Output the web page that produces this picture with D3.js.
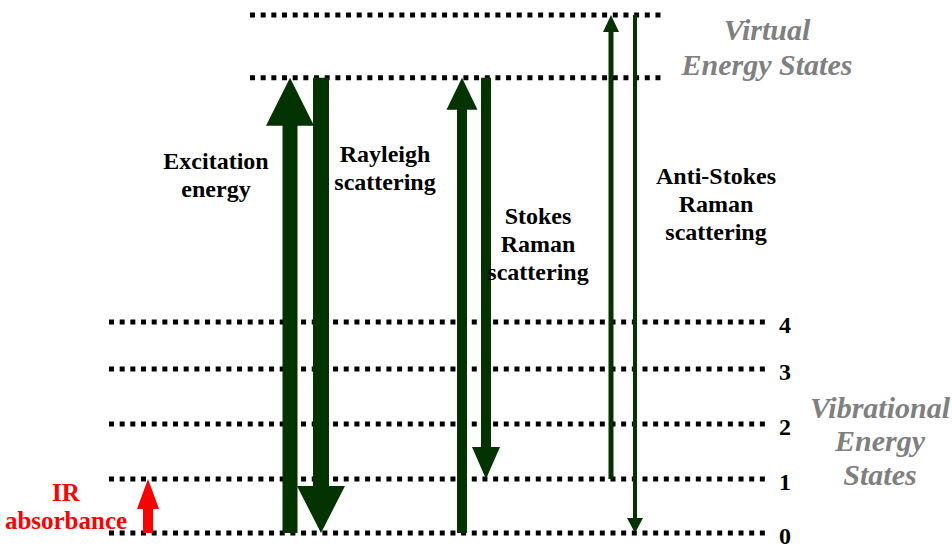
<!DOCTYPE html>
<html>
<head>
<meta charset="utf-8">
<script src="https://cdn.jsdelivr.net/npm/d3@7"></script>
<style>
  body { margin: 0; background: #fff; }
</style>
</head>
<body>
<div id="chart"></div>
<script>
// energy level diagram (Raman / Rayleigh / IR)

// vibrational levels, energy in units of one vibrational quantum
const vibLabels = ["0", "1", "2", "3", "4"];
const vibEnergy = [0, 0.99, 2.0, 3.01, 3.87];
// virtual levels
const virtualEnergy = [8.35, 9.5];

// transitions: name, from energy, to energy
const transNames = ["IR", "Excitation", "Rayleigh", "StokesUp", "StokesDown", "AntiUp", "AntiDown"];
const transFrom = [0, 0, 8.35, 0, 8.35, 0.99, 9.5];
const transTo = [0.99, 8.35, 0, 8.35, 0.99, 9.5, 0];

const W = 952, H = 549;
const green = "#033300";
const serif = "'Liberation Serif', 'Times New Roman', Times, 'DejaVu Serif', serif";

// layout for each transition arrow (x in px, shaft width, head width, head length)
const arrowStyle = {
  IR:         { x: 148, sw: 10, hw: 22, hl: 30, color: "#ff0000" },
  Excitation: { x: 290, sw: 15, hw: 48, hl: 48, color: green },
  Rayleigh:   { x: 321, sw: 16, hw: 48, hl: 47, color: green },
  StokesUp:   { x: 462, sw: 10, hw: 31, hl: 32, color: green },
  StokesDown: { x: 486, sw: 10, hw: 28, hl: 32, color: green },
  AntiUp:     { x: 611, sw: 5,  hw: 16, hl: 17, color: green },
  AntiDown:   { x: 635, sw: 4,  hw: 16, hl: 15, color: green }
};

const svg = d3.select("#chart").append("svg")
  .attr("width", W).attr("height", H)
  .style("font-family", serif)
  .style("font-weight", "bold");

const y = d3.scaleLinear().domain([0, 9.5]).range([533, 15]);

// dotted level lines
function dotted(x0, x1, e) {
  svg.append("line")
    .attr("x1", x0).attr("x2", x1)
    .attr("y1", y(e)).attr("y2", y(e))
    .attr("stroke", "#000")
    .attr("stroke-width", 5)
    .attr("stroke-dasharray", "5 5.67");
}
vibEnergy.forEach(e => dotted(109, 765, e));
virtualEnergy.forEach(e => dotted(250, 662, e));

// level numbers
svg.selectAll(".lvl").data(vibEnergy).join("text")
  .attr("class", "lvl")
  .attr("x", 785)
  .attr("y", d => y(d) + 3)
  .attr("dy", "0.35em")
  .attr("text-anchor", "middle")
  .style("font-family", serif)
  .attr("font-size", 24)
  .text((d, i) => vibLabels[i]);

// arrows
function arrowPath(x, y0, y1, sw, hw, hl) {
  const dir = y1 < y0 ? -1 : 1; // -1 up
  const yb = y1 - dir * hl;
  return `M${x - sw / 2},${y0} L${x - sw / 2},${yb} L${x - hw / 2},${yb} L${x},${y1} ` +
    `L${x + hw / 2},${yb} L${x + sw / 2},${yb} L${x + sw / 2},${y0} Z`;
}

svg.selectAll(".arrow").data(transNames).join("path")
  .attr("class", "arrow")
  .attr("d", (d, i) => {
    const s = arrowStyle[d];
    return arrowPath(s.x, y(transFrom[i]), y(transTo[i]), s.sw, s.hw, s.hl);
  })
  .attr("fill", d => arrowStyle[d].color);

// labels
function label(lines, cx, cy, size, opts = {}) {
  const t = svg.append("text")
    .attr("text-anchor", "middle")
    .attr("font-size", size)
    .style("font-family", serif)
    .attr("fill", opts.color || "#000")
    .attr("font-style", opts.italic ? "italic" : "normal");
  const lh = opts.lh || size * 1.2;
  lines.forEach((l, i) => {
    t.append("tspan")
      .attr("x", cx)
      .attr("y", cy + i * lh)
      .attr("dy", "0.35em")
      .text(l);
  });
}

label(["Excitation", "energy"], 216, 161, 24, { lh: 28 });
label(["Rayleigh", "scattering"], 385, 154, 24, { lh: 28 });
label(["Stokes", "Raman", "scattering"], 538, 216, 24, { lh: 28 });
label(["Anti-Stokes", "Raman", "scattering"], 716, 176, 24, { lh: 28 });
label(["IR", "absorbance"], 66, 492, 25, { lh: 28, color: "#ff0000" });
label(["Virtual", "Energy States"], 767, 29, 30, { lh: 35, color: "#808080", italic: true });
label(["Vibrational", "Energy", "States"], 880, 407, 30, { lh: 33.5, color: "#808080", italic: true });
</script>
</body>
</html>
